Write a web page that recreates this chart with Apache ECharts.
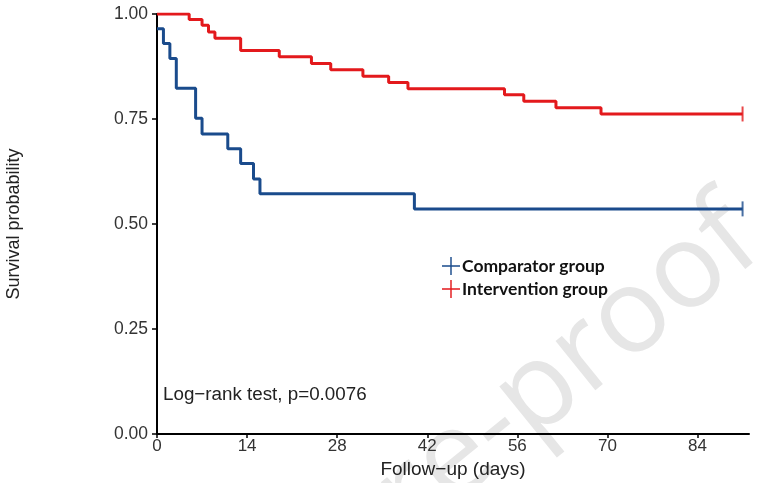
<!DOCTYPE html>
<html><head><meta charset="utf-8">
<script src="https://cdn.jsdelivr.net/npm/echarts@6/dist/echarts.min.js"></script>
<style>html,body{margin:0;padding:0;background:#fff}#c{width:769px;height:483px}</style>
</head><body><div id="c"></div>
<script>
// Kaplan-Meier step data
var comparatorDays = [0, 1, 2, 3, 6, 7, 11, 13, 15, 16, 40, 91];
var comparatorSurv = [0.965, 0.930, 0.894, 0.823, 0.752, 0.714, 0.679, 0.644, 0.607, 0.572, 0.536, 0.536];
var interventionDays = [0, 5, 7, 8, 9, 13, 19, 24, 27, 32, 36, 39, 54, 57, 62, 69, 91];
var interventionSurv = [1.0, 0.987, 0.973, 0.957, 0.942, 0.913, 0.898, 0.882, 0.867, 0.852, 0.837, 0.822, 0.808, 0.792, 0.777, 0.762, 0.762];
var censorDay = 91;
var xTicks = [0, 14, 28, 42, 56, 70, 84];
var yTicks = [0, 0.25, 0.5, 0.75, 1];
var seriesNames = ['Comparator group', 'Intervention group'];
var seriesColors = ['#1a4b8c', '#e3191c'];

function pairs(xs, ys){ return xs.map(function(x,i){ return [x, ys[i]]; }); }
var blue = pairs(comparatorDays, comparatorSurv);
var red = pairs(interventionDays, interventionSurv);

var plusIcon = 'path://M0,9.2H20V10.8H0Z M9.2,0H10.8V20H9.2Z';
var tickPath = 'path://M0,0H2V20H0Z';

var chart = echarts.init(document.getElementById('c'), null, {renderer:'canvas'});
chart.setOption({
  backgroundColor: '#fff',
  animation: false,
  grid: {left: 157, right: 20, top: 14, bottom: 49, containLabel: false, outerBoundsMode: 'none'},
  xAxis: {
    type: 'value', min: 0, max: 92,
    name: 'Follow\u2212up (days)', nameLocation: 'middle', nameGap: 24,
    nameTextStyle: {fontFamily: 'Liberation Sans', fontSize: 19, color: '#222'},
    axisLine: {show: true, onZero: false, lineStyle: {color: '#000', width: 2}},
    axisTick: {show: true, length: 4, lineStyle: {color: '#000', width: 1.5}, customValues: xTicks},
    axisLabel: {fontFamily: 'Liberation Sans', fontSize: 17, color: '#333', margin: 4, customValues: xTicks},
    splitLine: {show: false}
  },
  yAxis: {
    type: 'value', min: 0, max: 1, interval: 0.25,
    name: 'Survival probability', nameLocation: 'middle', nameGap: 134, nameRotate: 90,
    nameTextStyle: {fontFamily: 'Liberation Sans', fontSize: 18, color: '#222'},
    axisLine: {show: true, onZero: false, lineStyle: {color: '#000', width: 2}},
    axisTick: {show: true, length: 5, lineStyle: {color: '#000', width: 1.5}},
    axisLabel: {fontFamily: 'Liberation Sans', fontSize: 17.5, color: '#333', margin: 9,
      formatter: function(v){ return v.toFixed(2); }},
    splitLine: {show: false}
  },
  legend: {
    orient: 'vertical', left: 437, top: 252, itemGap: 5, itemWidth: 20, itemHeight: 18,
    textStyle: {fontFamily: 'Lato', fontWeight: 'bold', fontSize: 17.5, color: '#111', padding: [0,0,0,-4]},
    data: [{name: seriesNames[0], icon: plusIcon}, {name: seriesNames[1], icon: plusIcon}]
  },
  graphic: [
    {type: 'text', left: 163, top: 385, z: 10,
     style: {text: 'Log\u2212rank test, p=0.0076', fontFamily: 'Liberation Sans', fontSize: 18.8, fill: '#222'}},
    {type: 'text', x: 708, y: 180, rotation: 0.68, z: 0, silent: true,
     style: {text: 'Journal Pre-proof', fontFamily: 'Open Sans', fontSize: 118, fill: '#e6e6e6', align: 'right', verticalAlign: 'top'}}
  ],
  series: [
    {name: seriesNames[0], type: 'line', step: 'end', data: blue, showSymbol: false, symbol: 'none',
     lineStyle: {color: seriesColors[0], width: 3}, itemStyle: {color: seriesColors[0]}, z: 5},
    {name: seriesNames[1], type: 'line', step: 'end', data: red, showSymbol: false, symbol: 'none',
     lineStyle: {color: seriesColors[1], width: 3}, itemStyle: {color: seriesColors[1]}, z: 5},
    {name: 'c-censor', type: 'scatter', data: [[censorDay, comparatorSurv[comparatorSurv.length-1]]],
     symbol: tickPath, symbolSize: [2, 15], itemStyle: {color: seriesColors[0]}, z: 6},
    {name: 'i-censor', type: 'scatter', data: [[censorDay, interventionSurv[interventionSurv.length-1]]],
     symbol: tickPath, symbolSize: [2, 15], itemStyle: {color: seriesColors[1]}, z: 6}
  ]
});
</script></body></html>
